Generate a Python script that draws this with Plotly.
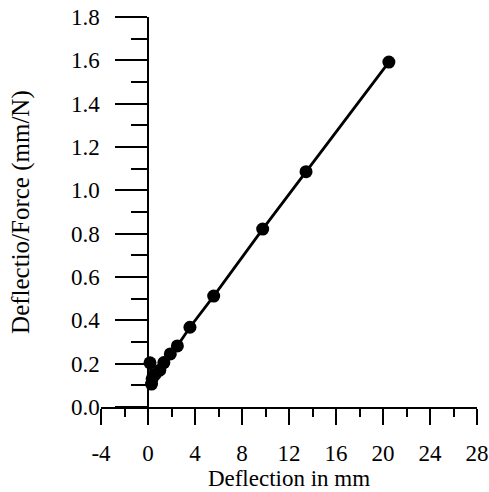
import plotly.graph_objects as go

# Data
deflection_mm = [0.17, 0.30, 0.35, 0.60, 1.00, 1.35, 1.90, 2.50, 3.57, 5.59, 9.76, 13.45, 20.50]
deflection_per_force = [0.204, 0.106, 0.130, 0.150, 0.170, 0.205, 0.245, 0.282, 0.368, 0.512, 0.821, 1.086, 1.592]

x_tick_vals = [-4, 0, 4, 8, 12, 16, 20, 24, 28]
x_tick_text = ["-4", "0", "4", "8", "12", "16", "20", "24", "28"]
y_tick_vals = [0.0, 0.2, 0.4, 0.6, 0.8, 1.0, 1.2, 1.4, 1.6, 1.8]
y_tick_text = ["0.0", "0.2", "0.4", "0.6", "0.8", "1.0", "1.2", "1.4", "1.6", "1.8"]

FONT = "Liberation Serif, Times New Roman, serif"

fig = go.Figure()
fig.add_trace(go.Scatter(
    x=deflection_mm, y=deflection_per_force,
    mode="lines+markers",
    line=dict(color="black", width=2.8),
    marker=dict(color="black", size=13),
    showlegend=False,
    cliponaxis=False,
))

fig.update_layout(
    width=489, height=492,
    margin=dict(l=101, r=12, t=17, b=85, autoexpand=False),
    paper_bgcolor="white", plot_bgcolor="white",
    font=dict(family=FONT, size=23, color="black"),
    xaxis=dict(
        range=[-4, 28], automargin=False,
        tickmode="array", tickvals=x_tick_vals, ticktext=x_tick_text,
        ticks="outside", ticklen=16, tickwidth=1.5, tickcolor="black",
        ticklabelstandoff=9,
        minor=dict(tickmode="array", tickvals=[-2, 2, 6, 10, 14, 18, 22, 26],
                   ticks="outside", ticklen=8, tickwidth=1.5, tickcolor="black"),
        showline=True, linecolor="black", linewidth=1.5,
        showgrid=False, zeroline=False,
        title=dict(text="Deflection in mm", font=dict(size=23), standoff=0),
    ),
    yaxis=dict(
        range=[0, 1.8], automargin=False,
        anchor="free", position=0.125,
        tickmode="array", tickvals=y_tick_vals, ticktext=y_tick_text,
        ticks="outside", ticklen=32, tickwidth=1.5, tickcolor="black",
        ticklabelstandoff=11,
        minor=dict(tickmode="array", tickvals=[0.1, 0.3, 0.5, 0.7, 0.9, 1.1, 1.3, 1.5, 1.7],
                   ticks="outside", ticklen=16, tickwidth=1.5, tickcolor="black"),
        showline=True, linecolor="black", linewidth=1.5,
        showgrid=False, zeroline=False,
    ),
    annotations=[dict(
        text="Deflectio/Force (mm/N)", textangle=-90,
        xref="paper", yref="paper", x=-0.213, y=0.5,
        xanchor="center", yanchor="middle", showarrow=False,
        font=dict(family=FONT, size=25, color="black"),
    )],
)

fig.write_html("out.html", config={"displayModeBar": False},
               post_script="document.body.style.margin='0px';")
